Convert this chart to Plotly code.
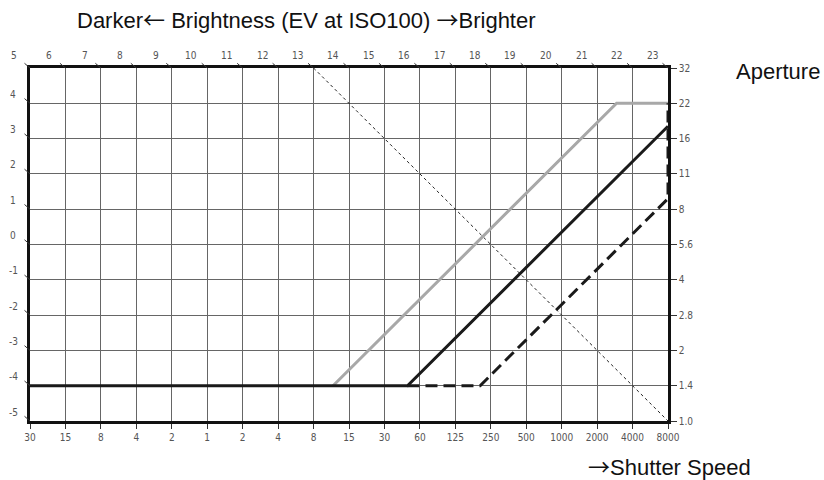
import plotly.graph_objects as go

# Shutter speed (Tv) grid and labels
tv_vals = list(range(-5, 14))
shutter_labels = ["30", "15", "8", "4", "2", "1", "2", "4", "8", "15", "30", "60",
                  "125", "250", "500", "1000", "2000", "4000", "8000"]
# Aperture (Av) grid and labels
av_vals = list(range(0, 11))
aperture_labels = ["1.0", "1.4", "2", "2.8", "4", "5.6", "8", "11", "16", "22", "32"]

# Program lines (Tv, Av)
gray_tv = [3.55, 11.55, 13]
gray_av = [1, 9, 9]
black_tv = [-5, 5.65, 13]
black_av = [1, 1, 8.35]
dash_tv = [5.65, 7.7, 13, 13]
dash_av = [1, 1, 6.3, 9]

# Example EV line
ev_line = 13
ev_tv = [ev_line - 10, ev_line - 0]
ev_av = [10, 0]

fig = go.Figure()
fig.add_trace(go.Scatter(x=ev_tv, y=ev_av, mode="lines",
                         line=dict(color="#222", width=1, dash="3px,3px"),
                         showlegend=False, hoverinfo="skip"))
fig.add_trace(go.Scatter(x=gray_tv, y=gray_av, mode="lines",
                         line=dict(color="#a8a8a8", width=3),
                         showlegend=False))
fig.add_trace(go.Scatter(x=black_tv, y=black_av, mode="lines",
                         line=dict(color="#1a1a1a", width=3),
                         showlegend=False))
fig.add_trace(go.Scatter(x=dash_tv, y=dash_av, mode="lines",
                         line=dict(color="#1a1a1a", width=3, dash="12px,6px"),
                         showlegend=False))

tick_font = dict(family="Liberation Sans Narrow, DejaVu Sans Condensed, Liberation Sans", size=10, color="#555")

annotations = []
# EV labels along top edge (Av = 10)
for tv in tv_vals:
    ev = tv + 10
    annotations.append(dict(x=tv, y=10, xref="x", yref="y", text=str(ev),
                            showarrow=False, xshift=-16, yshift=13, font=tick_font))
    annotations.append(dict(x=tv, y=10, xref="x", yref="y", text="",
                            showarrow=True, arrowhead=0, arrowwidth=1, arrowcolor="#333",
                            ax=-7, ay=-6))
# EV labels along left edge (Tv = -5)
for av in av_vals[:-1]:
    ev = av - 5
    annotations.append(dict(x=-5, y=av, xref="x", yref="y", text=str(ev),
                            showarrow=False, xshift=-17, yshift=9, font=tick_font))
    annotations.append(dict(x=-5, y=av, xref="x", yref="y", text="",
                            showarrow=True, arrowhead=0, arrowwidth=1, arrowcolor="#333",
                            ax=-7, ay=-6))

title_font = dict(family="Liberation Sans, Arial", size=22, color="#111")
ARROW_L = '<span style="font-family:Noto Sans CJK JP">←</span>'
ARROW_R = '<span style="font-family:Noto Sans CJK JP">→</span>'
annotations.append(dict(x=0.433, y=1.142, xref="paper", yref="paper",
                        xanchor="center", yanchor="middle",
                        text="Darker" + ARROW_L + " Brightness (EV at ISO100) " + ARROW_R + "Brighter",
                        showarrow=False, font=title_font))
annotations.append(dict(x=1.172, y=0.989, xref="paper", yref="paper",
                        xanchor="center", yanchor="middle",
                        text="Aperture", showarrow=False, font=title_font))
annotations.append(dict(x=1.003, y=-0.125, xref="paper", yref="paper",
                        xanchor="center", yanchor="middle",
                        text=ARROW_R + "Shutter Speed", showarrow=False, font=title_font))

fig.update_layout(
    width=824, height=480,
    margin=dict(l=30, r=156, t=68, b=59),
    paper_bgcolor="white", plot_bgcolor="white",
    annotations=annotations,
    xaxis=dict(range=[-5, 13], tickvals=tv_vals, ticktext=shutter_labels,
               showgrid=True, gridcolor="#666", gridwidth=1,
               showline=True, linecolor="#111", linewidth=2.5, mirror=True,
               ticks="outside", ticklen=5, tickcolor="#333", tickwidth=1,
               tickfont=tick_font, zeroline=False, fixedrange=True, automargin=False),
    yaxis=dict(range=[0, 10], tickvals=av_vals, ticktext=aperture_labels, side="right",
               showgrid=True, gridcolor="#666", gridwidth=1,
               showline=True, linecolor="#111", linewidth=2.5, mirror=True,
               ticks="outside", ticklen=6, tickcolor="#333", tickwidth=1,
               tickfont=tick_font, zeroline=False, fixedrange=True, automargin=False),
)

fig.write_html("out.html", config={"displayModeBar": False},
               post_script="document.body.style.margin='0';document.body.style.overflow='hidden';")
